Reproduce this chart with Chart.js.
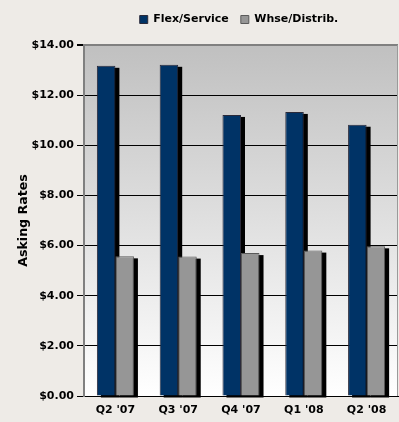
<!DOCTYPE html>
<html>
<head>
<meta charset="utf-8">
<script src="https://cdn.jsdelivr.net/npm/chart.js@4"></script>
<style>
  body { margin: 0; background: #eeebe7; }
  #wrap { width: 399px; height: 422px; }
</style>
</head>
<body>
<div id="wrap"><canvas id="grafico" width="399" height="422"></canvas></div>
<script>
// dados do grafico
const quarters = ["Q2 '07", "Q3 '07", "Q4 '07", "Q1 '08", "Q2 '08"];
const flexService = [13.17, 13.21, 11.21, 11.33, 10.82];
const whseDistrib = [5.57, 5.56, 5.70, 5.80, 5.97];
const yTicks = [0, 2, 4, 6, 8, 10, 12, 14];

const fonte = { family: "'DejaVu Sans', sans-serif", size: 11, weight: "bold" };
const padTopo = 12;

// fundo degrade da area do grafico + ajuste da legenda
const fundoPlot = {
    id: "fundoPlot",
    afterLayout(chart) {
        const lg = chart.legend;
        lg.top -= padTopo - 2; lg.bottom -= padTopo - 2;
        lg.left += 40; lg.right += 40;
    },
    beforeDraw(chart) {
        const a = chart.chartArea, ctx = chart.ctx;
        const g = ctx.createLinearGradient(0, a.top, 0, a.bottom);
        g.addColorStop(0, "#c0c0c0");
        g.addColorStop(1, "#ffffff");
        ctx.save();
        ctx.fillStyle = g;
        ctx.fillRect(a.left, a.top, a.right - a.left, a.bottom - a.top);
        ctx.restore();
    },
    afterDraw(chart) {
        const a = chart.chartArea, ctx = chart.ctx;
        ctx.save();
        ctx.strokeStyle = "#9a9a9a";
        ctx.lineWidth = 1;
        ctx.beginPath();
        ctx.moveTo(a.right - 0.5, a.top);
        ctx.lineTo(a.right - 0.5, a.bottom);
        ctx.stroke();
        ctx.restore();
    }
};

// sombra preta das barras (desenhada antes das barras)
const sombra = {
    id: "sombra",
    beforeDatasetsDraw(chart) {
        const ctx = chart.ctx;
        ctx.save();
        ctx.fillStyle = "#000000";
        chart.data.datasets.forEach((ds, i) => {
            chart.getDatasetMeta(i).data.forEach(bar => {
                const left = bar.x - bar.width / 2;
                ctx.fillRect(left + 4, bar.y + 2, bar.width, bar.base - bar.y);
            });
        });
        ctx.restore();
    }
};

Chart.defaults.font = fonte;
Chart.defaults.color = "#000000";

new Chart(document.getElementById("grafico"), {
    type: "bar",
    data: {
        labels: quarters,
        datasets: [{
            label: "Flex/Service",
            backgroundColor: "#003366",
            borderColor: "#2a2a3a",
            borderWidth: 1,
            data: flexService
        }, {
            label: "Whse/Distrib.",
            backgroundColor: "#969696",
            borderColor: "#5a5a5a",
            borderWidth: 1,
            data: whseDistrib
        }]
    },
    options: {
        responsive: false,
        animation: false,
        layout: { padding: { top: padTopo, right: 1, left: 0, bottom: 0 } },
        datasets: {
            bar: { categoryPercentage: 0.59, barPercentage: 1.0 }
        },
        plugins: {
            tooltip: { enabled: false },
            legend: {
                position: "top",
                labels: {
                    boxWidth: 8,
                    boxHeight: 8,
                    padding: 12,
                    font: fonte,
                    color: "#000000"
                }
            }
        },
        scales: {
            x: {
                grid: { display: false, drawTicks: false },
                border: { color: "#000000", width: 1 },
                ticks: { font: fonte, color: "#000000", padding: 8 },
                afterFit(scale) { scale.height = 26; }
            },
            y: {
                min: 0,
                max: 14,
                afterBuildTicks(scale) { scale.ticks = yTicks.map(v => ({ value: v })); },
                grid: {
                    color: ctx => ctx.tick && ctx.tick.value === 14 ? "#808080" : "#000000",
                    lineWidth: ctx => ctx.tick && ctx.tick.value === 14 ? 2 : 1,
                    tickLength: 7,
                    tickColor: "#000000"
                },
                border: { color: "#808080", width: 2 },
                ticks: {
                    font: fonte,
                    color: "#000000",
                    padding: 3,
                    callback: v => "$" + Number(v).toFixed(2)
                },
                title: {
                    display: true,
                    text: "Asking Rates",
                    font: { family: "'DejaVu Sans', sans-serif", size: 12.6, weight: "bold" },
                    color: "#000000",
                    padding: { top: 16, bottom: 0 }
                },
                afterFit(scale) { scale.width = 84; }
            }
        }
    },
    plugins: [fundoPlot, sombra]
});
</script>
</body>
</html>
